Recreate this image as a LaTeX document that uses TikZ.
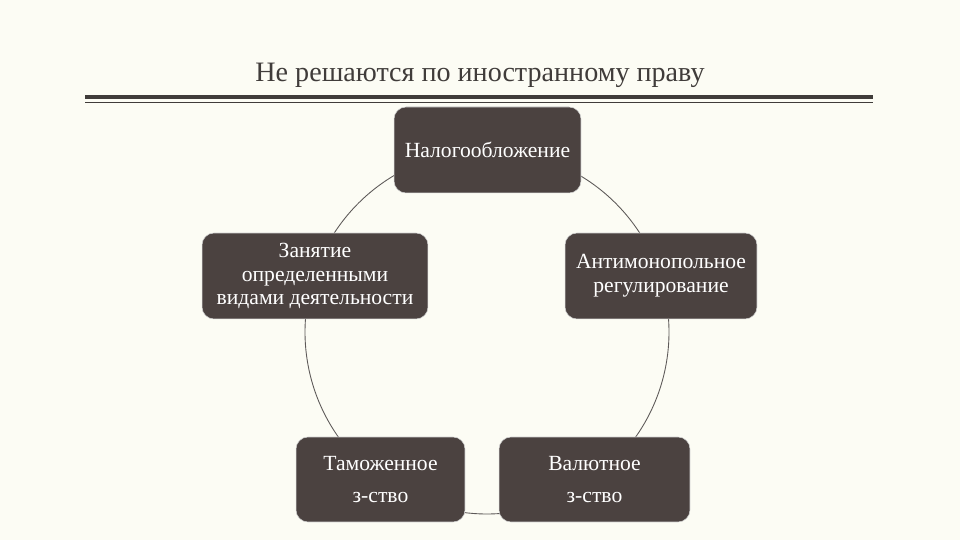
\documentclass[tikz,border=0pt]{standalone}
\usepackage{fontspec}
\setmainfont{Liberation Serif}
\definecolor{paper}{RGB}{252,252,244}
\definecolor{boxfill}{RGB}{75,66,64}
\definecolor{inkgray}{RGB}{64,60,58}
\tikzset{
  topic/.style={fill=boxfill, draw=white!82!black, line width=0.3pt, rounded corners=0.24cm,
    text=white, align=center, inner sep=0pt, font=\fontsize{12.3}{13.6}\selectfont},
  link/.style={draw=inkgray!85, line width=0.5pt}
}

\begin{document}
\begin{tikzpicture}[x=0.02cm, y=0.02cm]
  \fill[paper] (0,0) rectangle (960,540);
  \useasboundingbox (0,0) rectangle (960,540);
  % title and double rule
  \node[font=\fontsize{16}{20}\selectfont, text=inkgray] (title) at (480,465) {Не решаются по иностранному праву};
  \draw[inkgray, line width=2.2pt] (85,443) -- (873,443);
  \draw[inkgray, line width=0.8pt] (85,437.5) -- (873,437.5);
  % ring arcs between the boxes
  \coordinate (ring) at (487,208);
  \draw[link] (ring) ++(116:182) arc[start angle=116, end angle=151, radius=182];
  \draw[link] (ring) ++(172:182) arc[start angle=172, end angle=219, radius=182];
  \draw[link] (ring) ++(259:182) arc[start angle=259, end angle=278, radius=182];
  \draw[link] (ring) ++(-39:182) arc[start angle=-39, end angle=8, radius=182];
  \draw[link] (ring) ++(29:182) arc[start angle=29, end angle=63, radius=182];
  % boxes
  \node[topic, minimum width=3.74cm, minimum height=1.72cm] (nalog) at (487.5,390) {Налогообложение};
  \node[topic, minimum width=4.52cm, minimum height=1.72cm] (zanyat) at (315,264) {Занятие\\определенными\\видами деятельности};
  \node[topic, minimum width=3.84cm, minimum height=1.72cm] (antimon) at (661,264) {Антимонопольное\\регулирование};
  \node[topic, minimum width=3.38cm, minimum height=1.70cm] (tamozh) at (380.5,60.5) {Таможенное\\[4.5pt]з-ство};
  \node[topic, minimum width=3.82cm, minimum height=1.70cm] (valyut) at (594.5,60.5) {Валютное\\[4.5pt]з-ство};
\end{tikzpicture}
\end{document}
